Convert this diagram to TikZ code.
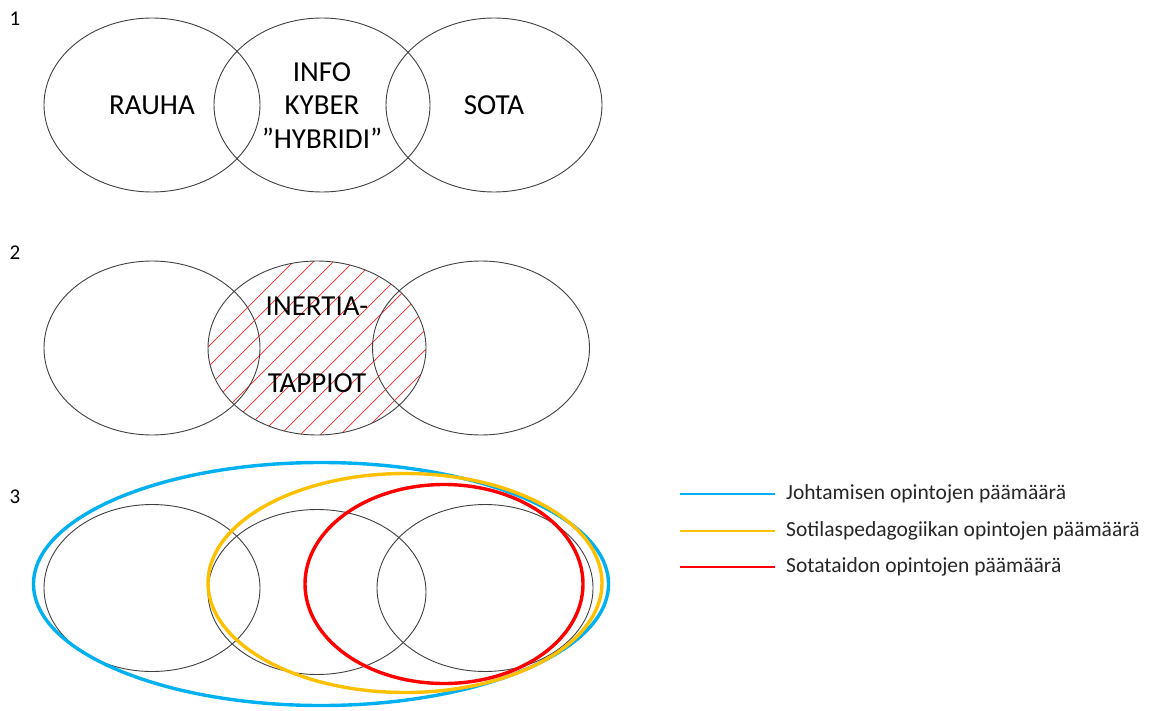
\documentclass[tikz,border=0pt]{standalone}
\usepackage{fontspec}
\setmainfont{Carlito}
\usetikzlibrary{shapes.geometric}
\definecolor{johto}{RGB}{0,176,240}
\definecolor{pedag}{RGB}{255,192,0}
\definecolor{sotat}{RGB}{255,0,0}
\begin{document}
\begin{tikzpicture}[x=1pt,y=-1pt]
	\tikzset{
	area/.style={draw=black!75,ellipse,line width=0.9pt,minimum width=216pt,minimum height=174pt,inner sep=0pt},
	goal/.style={draw=#1,ellipse,line width=3.4pt,inner sep=0pt},
	big/.style={font=\fontsize{29}{34}\selectfont,inner sep=0pt},
	num/.style={font=\fontsize{21}{24}\selectfont,inner sep=0pt},
	leg/.style={font=\fontsize{21.5}{25}\selectfont,anchor=west,inner sep=0pt,text=black!85},
	legline/.style={draw=#1,line width=2.2pt},
	}
	\useasboundingbox (0,0) rectangle (1155,711);

	%PANEL 1
	\node[num] (n1) at (15,19) {1};
	\node[area] (a1) at (152,105) {};
	\node[area] (b1) at (322,105) {};
	\node[area] (c1) at (494,105) {};
	\node[big] (rauha) at (152,105) {RAUHA};
	\node[big] (info) at (322,72) {INFO};
	\node[big] (kyber) at (322,105) {KYBER};
	\node[big] (hybr) at (322,138) {”HYBRIDI”};
	\node[big] (sota) at (494,105) {SOTA};

	%PANEL 2
	\node[num] (n2) at (15,253) {2};
	\begin{scope}
	\clip (317,348) ellipse [x radius=109pt,y radius=87pt];
	\foreach \k in {-110,-90,...,150}
		\draw[sotat!85,line width=0.7pt] (317+\k-110,348+110) -- (317+\k+110,348-110);
	\end{scope}
	\node[area] (a2) at (152,348) {};
	\node[area,minimum width=218pt] (b2) at (317,348) {};
	\node[area,minimum width=217pt] (c2) at (481,348) {};
	\node[big] (inert) at (317,306) {INERTIA-};
	\node[big] (tapp) at (317,383) {TAPPIOT};

	%PANEL 3
	\node[num] (n3) at (15,497) {3};
	\node[area,minimum height=167pt] (a3) at (152,588) {};
	\node[area,minimum width=218pt,minimum height=165pt] (b3) at (317,592) {};
	\node[area,minimum height=167pt] (c3) at (485,588) {};
	\node[goal=johto,minimum width=575pt,minimum height=243pt] (jo) at (321,584) {};
	\node[goal=pedag,minimum width=394pt,minimum height=219pt] (pe) at (405,583) {};
	\node[goal=sotat,minimum width=278pt,minimum height=199pt] (so) at (444,584) {};

	%LEGEND
	\node[leg] (ljo) at (786,494) {Johtamisen opintojen päämäärä};
	\node[leg] (lpe) at (786,531) {Sotilaspedagogiikan opintojen päämäärä};
	\node[leg] (lso) at (786,567) {Sotataidon opintojen päämäärä};
	\coordinate (sjo) at (680,494);
	\coordinate (spe) at (680,531);
	\coordinate (sso) at (680,567);
	\draw[legline=johto] (sjo) -- ([xshift=-11pt]ljo.west);
	\draw[legline=pedag] (spe) -- ([xshift=-11pt]lpe.west);
	\draw[legline=sotat] (sso) -- ([xshift=-11pt]lso.west);
\end{tikzpicture}
\end{document}
